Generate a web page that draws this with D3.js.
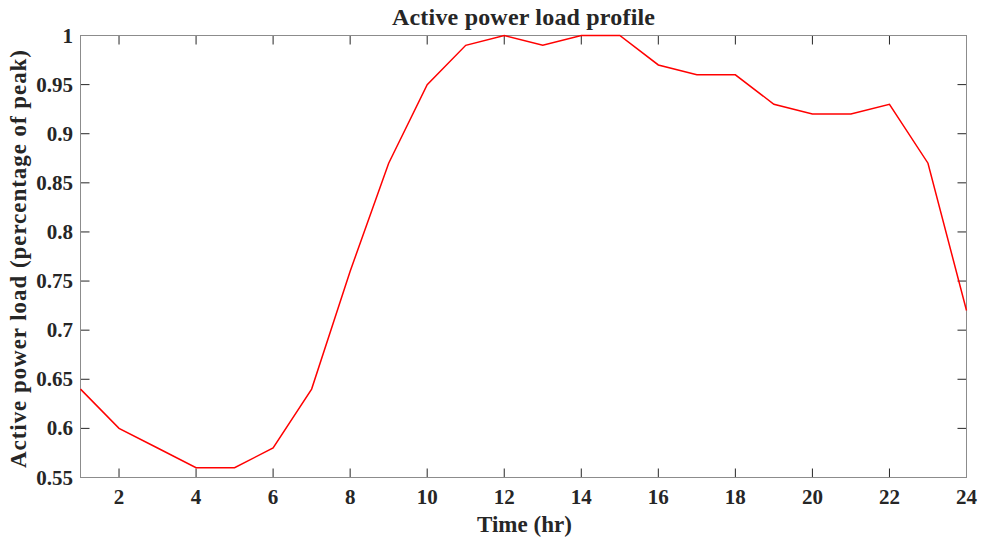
<!DOCTYPE html>
<html><head><meta charset="utf-8">
<script src="https://cdn.jsdelivr.net/npm/d3@7"></script>
<style>body{margin:0;background:#fff}svg{display:block}text{font-family:"Liberation Serif","Times New Roman",serif;font-weight:bold;fill:#262626}</style>
</head><body><svg id="c" width="982" height="540"></svg>
<script>
const hours = [1,2,3,4,5,6,7,8,9,10,11,12,13,14,15,16,17,18,19,20,21,22,23,24];
const load = [0.64,0.60,0.58,0.56,0.56,0.58,0.64,0.76,0.87,0.95,0.99,1.00,0.99,1.00,1.00,0.97,0.96,0.96,0.93,0.92,0.92,0.93,0.87,0.72];
const xTicks = [2,4,6,8,10,12,14,16,18,20,22,24];
const yTicks = [0.55,0.6,0.65,0.7,0.75,0.8,0.85,0.9,0.95,1];
const titleText = "Active power load profile";
const xLabel = "Time (hr)";
const yLabel = "Active power load (percentage of peak)";

const L=80.5,R=966.5,T=35.5,B=477.5;
const svg=d3.select("#c");
const x=d3.scaleLinear().domain([1,24]).range([L,R]);
const y=d3.scaleLinear().domain([0.55,1]).range([B,T]);
const tl=9;
const g=svg.append("g");
xTicks.forEach(v=>{
  g.append("line").attr("x1",x(v)).attr("x2",x(v)).attr("y1",B).attr("y2",B-tl).attr("stroke","#262626");
  g.append("line").attr("x1",x(v)).attr("x2",x(v)).attr("y1",T).attr("y2",T+tl).attr("stroke","#262626");
  g.append("text").attr("x",x(v)).attr("y",504).attr("text-anchor","middle").attr("font-size",21).text(v);
});
yTicks.forEach(v=>{
  g.append("line").attr("x1",L).attr("x2",L+tl).attr("y1",y(v)).attr("y2",y(v)).attr("stroke","#262626");
  g.append("line").attr("x1",R).attr("x2",R-tl).attr("y1",y(v)).attr("y2",y(v)).attr("stroke","#262626");
  g.append("text").attr("x",73).attr("y",y(v)+7).attr("text-anchor","end").attr("font-size",21).text(d3.format("")(v));
});
svg.append("rect").attr("x",L).attr("y",T).attr("width",R-L).attr("height",B-T).attr("fill","none").attr("stroke","#8c8c8c");
const line=d3.line().x((d,i)=>x(hours[i])).y(d=>y(d));
svg.append("path").datum(load).attr("d",line).attr("fill","none").attr("stroke","#ff0000").attr("stroke-width",1.5);
svg.append("text").attr("x",523.5).attr("y",25).attr("text-anchor","middle").attr("font-size",24).attr("textLength",263).attr("lengthAdjust","spacing").attr("fill","#000").text(titleText);
svg.append("text").attr("x",524.5).attr("y",532).attr("text-anchor","middle").attr("font-size",23).attr("textLength",95).attr("lengthAdjust","spacing").text(xLabel);
svg.append("text").attr("transform",`translate(26,259) rotate(-90)`).attr("text-anchor","middle").attr("font-size",23).attr("textLength",418).attr("lengthAdjust","spacing").text(yLabel);
</script></body></html>
